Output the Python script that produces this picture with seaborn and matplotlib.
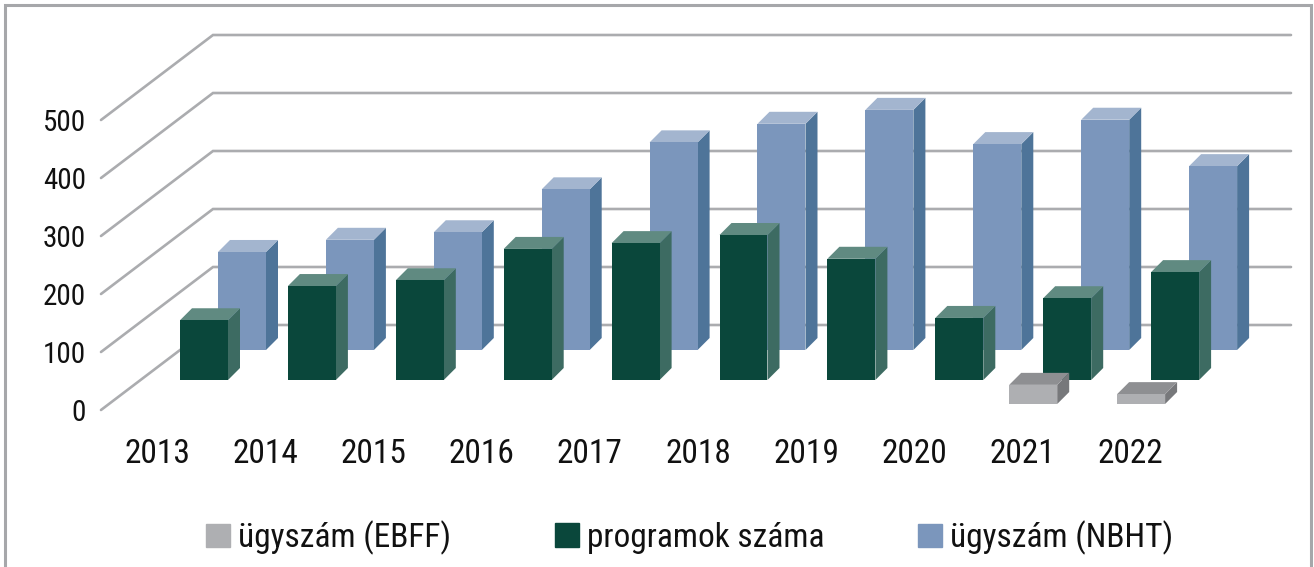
import matplotlib
matplotlib.use("Agg")
import matplotlib.pyplot as plt
from matplotlib.patches import Patch, Rectangle
import numpy as np
import pandas as pd
import seaborn as sns

years = ["2013", "2014", "2015", "2016", "2017", "2018", "2019", "2020", "2021", "2022"]
nbht = [169, 190, 203, 277, 358, 390, 414, 355, 397, 317]
programs = [103, 162, 172, 226, 236, 250, 209, 107, 141, 186]
ebff = [0, 0, 0, 0, 0, 0, 0, 0, 33, 17]
y_ticks = [0, 100, 200, 300, 400, 500]
legend_labels = ["ügyszám (EBFF)", "programok száma", "ügyszám (NBHT)"]

sns.set_theme(style="white")
plt.rcParams["font.family"] = ["Roboto Condensed", "Roboto", "DejaVu Sans"]

W, H = 1314, 567
fig = plt.figure(figsize=(W / 100, H / 100), dpi=100)
L, R, T, B = 101, 1291, 35, 410
ax = fig.add_axes([L / W, 1 - B / H, (R - L) / W, (B - T) / H])
PX_X, PX_Y = 107.9, 0.58  # pixels per category / per unit
X0 = 156.0

def xu(px): return px / PX_X
def yu(px): return px / PX_Y

GRID = "#ABACAF"
wall_dx, wall_dy = 112, 85
x_left = (L - X0) / PX_X
x_right = (R - X0) / PX_X
for v in y_ticks:
    ax.plot([x_left, x_left + xu(wall_dx), x_right], [v, v + yu(wall_dy), v + yu(wall_dy)],
            color=GRID, lw=1.9, zorder=1, solid_joinstyle="miter", clip_on=False)

series = [
    (nbht, 86, 60, "#7B96BC", "#4E7499", "#A3B5CF"),
    (programs, 48, 30, "#0A473B", "#3D6B62", "#608A81"),
    (ebff, 14, 6, "#AEAFB2", "#77787B", "#8E8F92"),
]
bw = 48 / PX_X
pos = np.arange(len(years), dtype=float)
z = 3
for vals, dx, dy, front, side, top in series:
    vals = np.asarray(vals, float)
    shown = vals > 0
    df = pd.DataFrame({"x": pos[shown] + xu(dx), "y": vals[shown]})
    before = len(ax.patches)
    sns.barplot(data=df, x="x", y="y", native_scale=True, width=bw, color=front,
                saturation=1, bottom=yu(dy), ax=ax, zorder=z + 2, linewidth=0,
                errorbar=None, legend=False)
    for p in ax.patches[before:]:
        x0, y0 = p.get_x(), p.get_y()
        w, h = p.get_width(), p.get_height()
        ox, oy = xu(12), yu(12)
        ax.fill([x0 + w, x0 + w + ox, x0 + w + ox, x0 + w],
                [y0, y0 + oy, y0 + h + oy, y0 + h], color=side, lw=0, zorder=z + 1)
        ax.fill([x0, x0 + ox, x0 + w + ox, x0 + w],
                [y0 + h, y0 + h + oy, y0 + h + oy, y0 + h], color=top, lw=0, zorder=z + 1)
    z += 3

ax.set_xlim(x_left, x_right)
ax.set_ylim(0, (B - T) / PX_Y)
ax.set_xlabel("")
ax.set_ylabel("")
ax.set_xticks((pos * 108.2 + 1) / PX_X, years, fontsize=24, color="#111111")
ax.set_yticks(y_ticks, [str(v) for v in y_ticks], fontsize=21, color="#111111")
ax.tick_params(axis="x", length=0, pad=20)
ax.tick_params(axis="y", length=0, pad=11)
ax.patch.set_alpha(0)
for s in ax.spines.values():
    s.set_visible(False)

fig.add_artist(Rectangle((4.5 / W, -0.05), (W - 8) / W, 1 - 4.5 / H + 0.05,
                         transform=fig.transFigure, fill=False, ec="#A6A7AA", lw=2.2))

for label, colr, sx in zip(legend_labels, ["#AEAFB2", "#0A473B", "#7B96BC"], [206, 555, 918]):
    fig.legend([Patch(color=colr)], [label], loc="center left",
               bbox_to_anchor=(sx / W, 1 - 537.5 / H), frameon=False, fontsize=24,
               borderpad=0, borderaxespad=0, handlelength=0.72, handleheight=0.72,
               handletextpad=0.24, labelcolor="#111111")
fig.savefig("out.png", dpi=100)
